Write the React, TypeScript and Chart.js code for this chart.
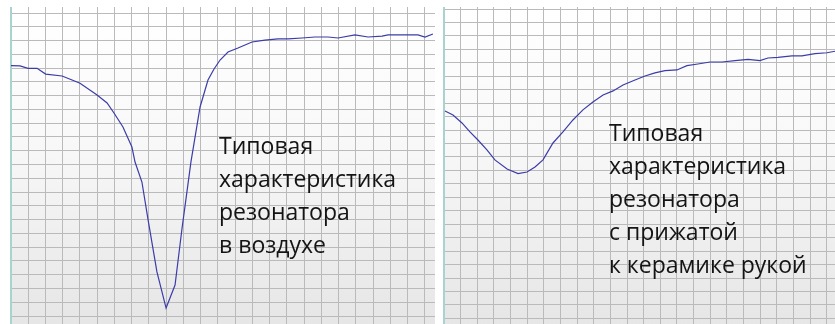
import React, { useEffect, useRef } from "react";
import { Chart, registerables } from "chart.js";

Chart.register(...registerables);

// Left panel: resonator in air (x, y in grid cells)
const airX = [0, 0.52, 0.99, 1.51, 2.01, 2.96, 3.54, 4.0, 4.99, 5.57, 5.97, 6.49, 7.01, 7.19, 7.59, 7.94, 8.46, 8.99, 9.51, 9.91, 10.43, 10.96, 11.42, 11.77, 12.12, 12.58, 13.16, 13.97, 14.72, 15.48, 16.06, 16.87, 17.62, 18.38, 18.96, 19.94, 20.7, 21.51, 21.86, 23.01, 23.59, 24.0, 24.46];
const airY = [18.18, 18.16, 17.99, 17.99, 17.57, 17.43, 17.14, 16.9, 16.05, 15.47, 14.74, 13.73, 12.27, 11.18, 9.73, 7.04, 3.2, 0.58, 2.25, 6.32, 11.18, 15.18, 17.14, 17.94, 18.59, 19.17, 19.46, 19.9, 20.04, 20.12, 20.12, 20.19, 20.26, 20.26, 20.19, 20.41, 20.26, 20.33, 20.41, 20.41, 20.41, 20.26, 20.48];

// Right panel: resonator pressed to ceramics by hand
const handX = [0.06, 0.54, 1.08, 1.56, 2.04, 2.58, 3.06, 3.79, 4.45, 4.99, 5.47, 5.95, 6.55, 7.15, 7.75, 8.35, 8.95, 9.56, 10.16, 10.76, 11.48, 12.08, 12.68, 13.28, 14.0, 14.6, 15.26, 15.99, 16.71, 17.49, 18.27, 18.99, 19.47, 20.07, 20.91, 21.51, 22.3, 23.02, 23.5];
const handY = [15.42, 15.12, 14.53, 13.86, 13.26, 12.52, 11.78, 11.11, 10.76, 10.88, 11.26, 11.78, 13.04, 13.86, 14.75, 15.5, 16.09, 16.61, 16.91, 17.35, 17.72, 18.02, 18.25, 18.42, 18.47, 18.79, 18.91, 19.06, 19.06, 19.16, 19.26, 19.16, 19.36, 19.41, 19.51, 19.51, 19.68, 19.75, 19.86];

const airLabel = ["Типовая", "характеристика", "резонатора", "в воздухе"];
const handLabel = ["Типовая", "характеристика", "резонатора", "с прижатой", "к керамике рукой"];

const bgPlugin = {
  id: "paperBg",
  beforeDraw(chart: any) {
    const { ctx, chartArea } = chart;
    if (!chartArea) return;
    const g = ctx.createLinearGradient(0, chartArea.top, 0, chartArea.bottom);
    g.addColorStop(0, "#ffffff");
    g.addColorStop(0.4, "#f9f9f9");
    g.addColorStop(1, "#e6e6e6");
    ctx.save();
    ctx.fillStyle = g;
    ctx.fillRect(chartArea.left, chartArea.top, chartArea.right - chartArea.left, chartArea.bottom - chartArea.top);
    ctx.restore();
  },
};

type PanelProps = {
  xs: number[];
  ys: number[];
  xMax: number;
  yMin: number;
  yMax: number;
  left: number;
  top: number;
  width: number;
  height: number;
};

function Panel({ xs, ys, xMax, yMin, yMax, left, top, width, height }: PanelProps) {
  const ref = useRef<HTMLCanvasElement | null>(null);
  useEffect(() => {
    if (!ref.current) return;
    const chart = new Chart(ref.current, {
      type: "line",
      data: {
        datasets: [
          {
            data: xs.map((x, i) => ({ x, y: ys[i] })),
            borderColor: "#3b3ca8",
            borderWidth: 1.2,
            pointRadius: 0,
            tension: 0,
            fill: false,
          },
        ],
      },
      options: {
        responsive: false,
        animation: false,
        devicePixelRatio: 1,
        layout: { padding: { left: 1, right: 0, top: 0, bottom: 0 } },
        plugins: { legend: { display: false }, tooltip: { enabled: false } },
        scales: {
          x: {
            type: "linear",
            min: 0,
            max: xMax,
            ticks: { display: false, stepSize: 1, includeBounds: false },
            grid: { color: "#bababa", lineWidth: 1, drawTicks: false },
            border: { display: false },
          },
          y: {
            type: "linear",
            min: yMin,
            max: yMax,
            ticks: { display: false, stepSize: 1, includeBounds: false },
            grid: { color: "#bababa", lineWidth: 1, drawTicks: false },
            border: { display: true, color: "#a9d3cf", width: 2 },
          },
        },
      },
      plugins: [bgPlugin],
    });
    return () => chart.destroy();
  }, []);
  return (
    <canvas
      ref={ref}
      width={width}
      height={height}
      style={{ position: "absolute", left, top, width, height }}
    />
  );
}

function Label({ lines, left, top }: { lines: string[]; left: number; top: number }) {
  return (
    <div
      style={{
        position: "absolute",
        left,
        top,
        fontFamily: "'Open Sans', sans-serif",
        fontSize: 23,
        lineHeight: "33px",
        color: "#141414",
        whiteSpace: "nowrap",
      }}
    >
      {lines.map((l, i) => (
        <div key={i}>{l}</div>
      ))}
    </div>
  );
}

export default function App() {
  return (
    <div style={{ position: "absolute", left: 0, top: 0, width: 835, height: 324, background: "#fff", overflow: "hidden" }}>
      <Panel xs={airX} ys={airY} xMax={24.58} yMin={-0.58} yMax={22.44} left={10} top={7} width={425} height={317} />
      <Panel xs={handX} ys={handY} xMax={23.5} yMin={-0.42} yMax={23.15} left={443} top={7} width={392} height={317} />
      <Label lines={airLabel} left={219} top={129} />
      <Label lines={handLabel} left={609} top={116} />
    </div>
  );
}
